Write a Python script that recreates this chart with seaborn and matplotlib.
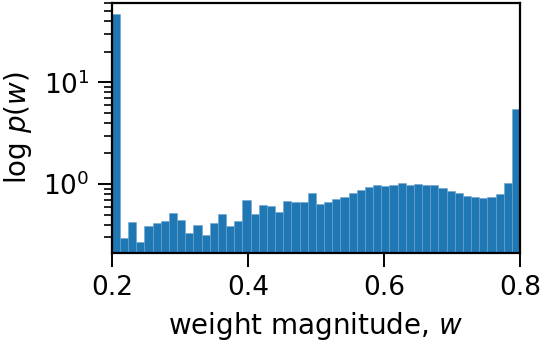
import numpy as np
import pandas as pd
import matplotlib
matplotlib.use("Agg")
import matplotlib.pyplot as plt
import seaborn as sns

# histogram of weight magnitudes (density per bin)
W_MIN, W_MAX, N_BINS = 0.2, 0.8, 50
density = [
    46.4, 0.296, 0.427, 0.268, 0.388, 0.418, 0.437, 0.516, 0.447, 0.333,
    0.396, 0.316, 0.411, 0.508, 0.388, 0.437, 0.692, 0.512, 0.618, 0.609,
    0.532, 0.686, 0.666, 0.662, 0.811, 0.637, 0.666, 0.708, 0.751, 0.816,
    0.867, 0.928, 0.978, 0.956, 0.978, 1.02, 0.99, 1.0, 0.99, 0.97,
    0.914, 0.86, 0.811, 0.757, 0.741, 0.724, 0.751, 0.792, 1.02, 5.52,
]
x_ticks = [0.2, 0.4, 0.6, 0.8]

sns.set_theme(style="ticks")
plt.rcParams["font.family"] = ["DejaVu Sans"]
plt.rcParams["text.color"] = "black"
plt.rcParams["axes.labelcolor"] = "black"
plt.rcParams["xtick.color"] = "black"
plt.rcParams["ytick.color"] = "black"

edges = np.linspace(W_MIN, W_MAX, N_BINS + 1)
df = pd.DataFrame({"w": (edges[:-1] + edges[1:]) / 2, "p": density})

fig = plt.figure(figsize=(5.4, 3.42), dpi=100)
ax = fig.add_axes([0.207, 0.26, 0.756, 0.731])

sns.histplot(data=df, x="w", weights="p", bins=N_BINS,
             binrange=(W_MIN, W_MAX), ax=ax,
             color="#1f77b4", alpha=1, edgecolor="#6fa3cf", linewidth=0.4)
ax.set_yscale("log")
ax.set_ylim(0.21, 60)
ax.set_xlim(W_MIN, W_MAX)
ax.set_xticks(x_ticks)
ax.set_xticklabels([f"{t:.1f}" for t in x_ticks])

ax.set_xlabel("weight magnitude, $w$", fontsize=20, labelpad=6)
ax.set_ylabel("log $p(w)$", fontsize=20, labelpad=7)
ax.tick_params(axis="both", which="major", labelsize=19, length=10,
               width=1.4, pad=6)
ax.tick_params(axis="y", which="minor", length=6, width=1.2)
for s in ax.spines.values():
    s.set_linewidth(1.6)
    s.set_color("black")

fig.savefig("out.png", dpi=100)
